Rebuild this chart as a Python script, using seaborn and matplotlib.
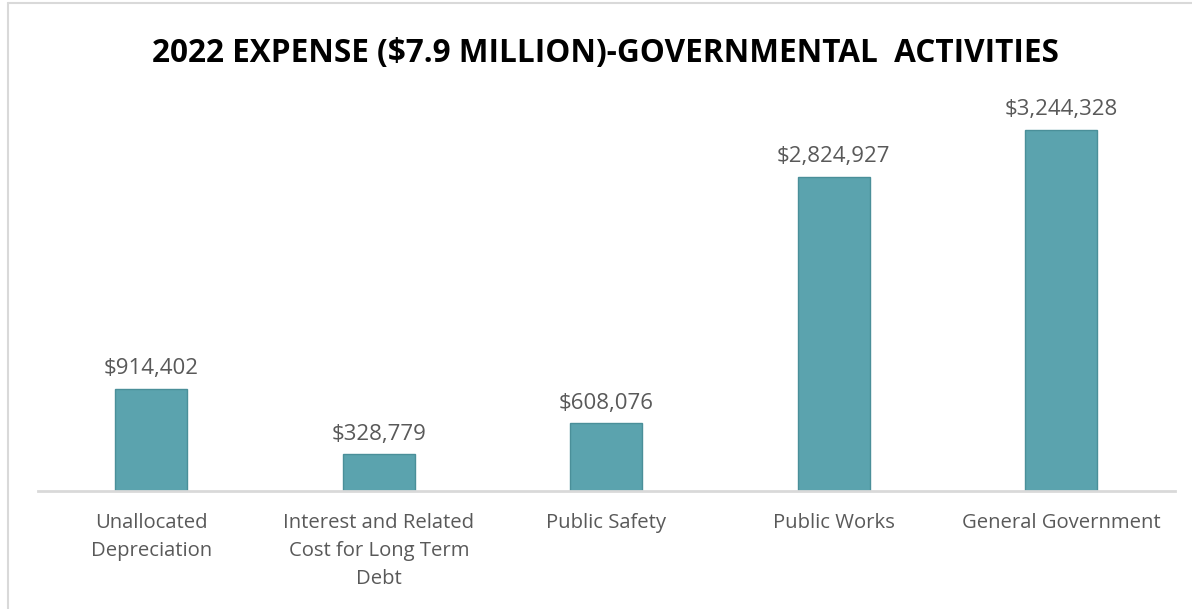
import matplotlib
matplotlib.use("Agg")
import matplotlib.pyplot as plt
from matplotlib.lines import Line2D
import seaborn as sns
import pandas as pd

categories = [
    "Unallocated\nDepreciation",
    "Interest and Related\nCost for Long Term\nDebt",
    "Public Safety",
    "Public Works",
    "General Government",
]
expenses = [914402, 328779, 608076, 2824927, 3244328]
title_text = "2022 EXPENSE ($7.9 MILLION)-GOVERNMENTAL  ACTIVITIES"

sns.set_theme(style="white")
plt.rcParams["font.family"] = ["Open Sans", "DejaVu Sans"]

df = pd.DataFrame({"category": categories, "expense": expenses})

fig = plt.figure(figsize=(11.92, 6.09), dpi=100)
ax = fig.add_axes([0.0315, 0.1938, 0.9543, 0.6396])

bar_color = "#5BA3AE"
sns.barplot(data=df, x="category", y="expense", color=bar_color,
            width=0.316, saturation=1, edgecolor="#4A8F99", linewidth=1,
            ax=ax)

ax.set_xlim(-0.5, 4.5)
ax.set_ylim(0, 3.5e6)
ax.set_xlabel("")
ax.set_ylabel("")
ax.set_yticks([])
for side in ["top", "right", "left"]:
    ax.spines[side].set_visible(False)
ax.spines["bottom"].set_color("#D9D9D9")
ax.spines["bottom"].set_linewidth(2)
ax.tick_params(axis="x", length=0, pad=16, labelsize=14.6, labelcolor="#595959")
for lbl in ax.get_xticklabels():
    lbl.set_linespacing(1.52)
    lbl.set_horizontalalignment("center")

for i, v in enumerate(expenses):
    ax.annotate(f"${v:,.0f}", xy=(i, v), xytext=(0, 7), textcoords="offset points",
                ha="center", va="bottom", fontsize=16, color="#595959")

fig.text(0.508, 0.912, title_text, ha="center", va="center",
         fontsize=22.7, fontweight="bold", color="#000000")

# chart frame edges (top and left)
fig.add_artist(Line2D([0.0067, 0.0067], [0.0, 0.995], transform=fig.transFigure,
                      color="#D9D9D9", linewidth=1.5))
fig.add_artist(Line2D([0.0067, 1.0], [0.995, 0.995], transform=fig.transFigure,
                      color="#D9D9D9", linewidth=1.5))

fig.savefig("out.png", dpi=100, facecolor="white")
